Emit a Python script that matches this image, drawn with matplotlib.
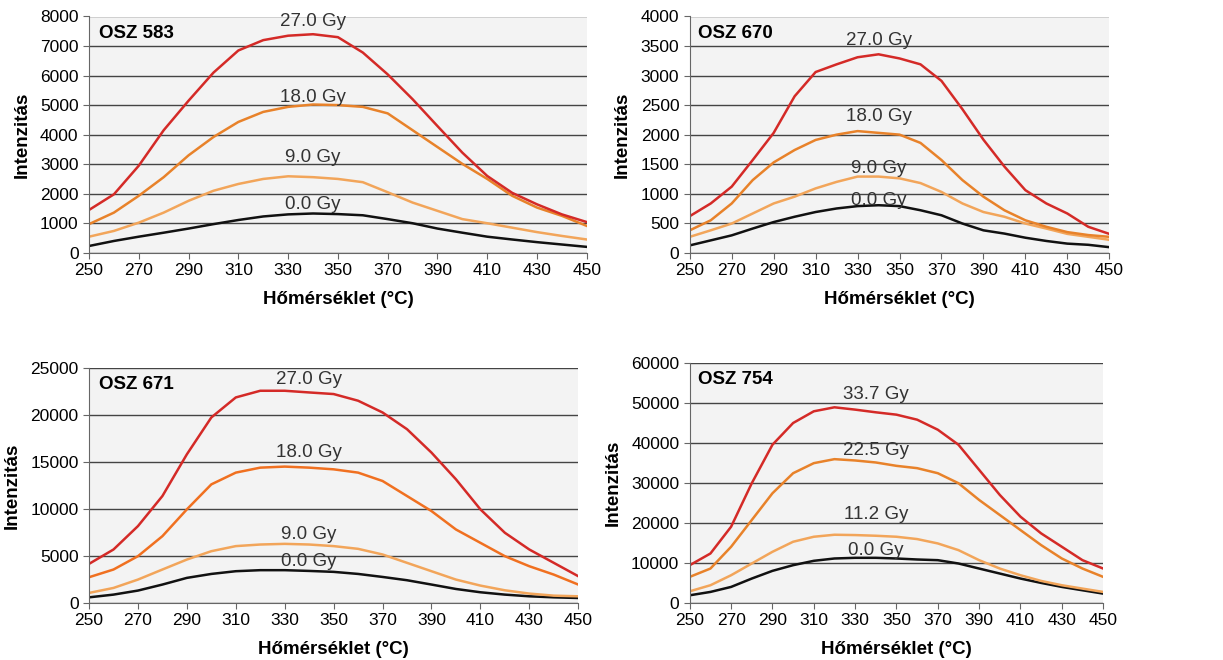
import numpy as np
import matplotlib.pyplot as plt

plt.rcParams['font.family'] = ['Liberation Sans', 'DejaVu Sans']

temp = np.arange(250, 451, 10)

# OSZ 583
s583_27 = [1450, 1980, 2950, 4150, 5150, 6100, 6850, 7200, 7350, 7400, 7300, 6780, 6040, 5200, 4290, 3390, 2600, 2030, 1640, 1300, 1040]
s583_18 = [970, 1360, 1930, 2560, 3300, 3920, 4430, 4770, 4940, 5020, 5000, 4940, 4720, 4150, 3580, 3010, 2500, 1930, 1530, 1250, 910]
s583_9 = [545, 740, 1020, 1360, 1760, 2100, 2330, 2500, 2590, 2560, 2500, 2390, 2050, 1700, 1420, 1140, 1000, 850, 700, 570, 450]
s583_0 = [230, 400, 545, 680, 820, 970, 1110, 1230, 1300, 1330, 1310, 1270, 1140, 1000, 820, 680, 545, 450, 360, 280, 200]

# OSZ 670
s670_27 = [620, 835, 1120, 1570, 2030, 2650, 3060, 3190, 3310, 3360, 3290, 3190, 2910, 2430, 1915, 1460, 1060, 835, 665, 440, 320]
s670_18 = [380, 550, 835, 1230, 1530, 1740, 1910, 2000, 2060, 2030, 2000, 1860, 1570, 1230, 950, 720, 550, 440, 350, 300, 270]
s670_9 = [270, 380, 495, 665, 835, 950, 1090, 1200, 1290, 1290, 1260, 1180, 1030, 835, 690, 610, 495, 410, 320, 270, 220]
s670_0 = [125, 210, 295, 410, 520, 610, 690, 750, 790, 805, 790, 720, 635, 495, 380, 325, 255, 200, 155, 135, 95]

# OSZ 671
s671_27 = [4160, 5690, 8180, 11380, 15820, 19740, 21870, 22580, 22580, 22400, 22230, 21520, 20270, 18490, 16000, 13160, 9960, 7470, 5690, 4270, 2850]
s671_18 = [2740, 3560, 4980, 7110, 9960, 12620, 13870, 14400, 14510, 14400, 14220, 13870, 12980, 11380, 9780, 7820, 6400, 4980, 3910, 3020, 1960]
s671_9 = [1070, 1600, 2490, 3560, 4620, 5510, 6050, 6220, 6290, 6220, 6050, 5760, 5160, 4270, 3380, 2490, 1850, 1350, 1000, 780, 710]
s671_0 = [600, 890, 1320, 1960, 2670, 3090, 3380, 3490, 3490, 3410, 3310, 3090, 2770, 2420, 1960, 1490, 1140, 890, 710, 600, 530]

# OSZ 754
s754_337 = [9440, 12360, 19050, 29910, 39520, 44950, 47870, 48870, 48290, 47620, 47030, 45780, 43270, 39520, 33250, 26980, 21550, 17380, 14040, 10690, 8600]
s754_225 = [6520, 8600, 14040, 20720, 27400, 32410, 34920, 35920, 35590, 35090, 34250, 33670, 32410, 29910, 25730, 21970, 18210, 14450, 11110, 8600, 6520]
s754_112 = [2920, 4430, 6930, 9860, 12780, 15290, 16540, 17040, 16960, 16790, 16540, 15960, 14870, 13200, 10690, 8600, 6930, 5510, 4430, 3590, 2760]
s754_0 = [1920, 2760, 4010, 6100, 8020, 9440, 10530, 11110, 11280, 11280, 11110, 10860, 10690, 9860, 8600, 7350, 6100, 5010, 4010, 3170, 2340]

colors = ['#d42a27', '#e8822a', '#f2a55a', '#111111']

panels = [
    ("OSZ 583", [0.0728, 0.617, 0.407, 0.358], 8000, 1000,
     [s583_27, s583_18, s583_9, s583_0], ["27.0 Gy", "18.0 Gy", "9.0 Gy", "0.0 Gy"],
     [7830, 5250, 3220, 1630], colors),
    ("OSZ 670", [0.564, 0.617, 0.343, 0.358], 4000, 500,
     [s670_27, s670_18, s670_9, s670_0], ["27.0 Gy", "18.0 Gy", "9.0 Gy", "0.0 Gy"],
     [3600, 2300, 1420, 880], colors),
    ("OSZ 671", [0.0728, 0.0864, 0.400, 0.356], 25000, 5000,
     [s671_27, s671_18, s671_9, s671_0], ["27.0 Gy", "18.0 Gy", "9.0 Gy", "0.0 Gy"],
     [23800, 16000, 7300, 4400], ['#d42a27', '#f07020', '#f2a55a', '#111111']),
    ("OSZ 754", [0.564, 0.0864, 0.338, 0.364], 60000, 10000,
     [s754_337, s754_225, s754_112, s754_0], ["33.7 Gy", "22.5 Gy", "11.2 Gy", "0.0 Gy"],
     [52000, 38000, 22000, 13000], colors),
]

fig = plt.figure(figsize=(12.23, 6.6), dpi=100)

for name, rect, ymax, ystep, series, labels, label_y, cols in panels:
    ax = fig.add_axes(rect)
    ax.set_facecolor('#f3f3f3')
    for vals, c in zip(series[::-1], cols[::-1]):
        ax.plot(temp, vals, color=c, lw=1.8)
    for lab, ly in zip(labels, label_y):
        ax.text(340, ly, lab, ha='center', va='center', fontsize=13.5, color='#333333')
    ax.text(0.02, 0.93, name, transform=ax.transAxes, fontsize=13.5, fontweight='bold',
            ha='left', va='center')
    ax.set_xlim(250, 450)
    ax.set_ylim(0, ymax)
    ax.set_xticks(np.arange(250, 451, 20))
    ax.set_yticks(np.arange(0, ymax + 1, ystep))
    ax.yaxis.grid(True, color='#444444', lw=1)
    ax.set_axisbelow(True)
    for s in ['top', 'right']:
        ax.spines[s].set_visible(False)
    ax.spines['left'].set_color('#666666')
    ax.spines['bottom'].set_color('#666666')
    ax.tick_params(labelsize=12.5, color='#666666', length=4)
    ax.set_xlabel("Hőmérséklet (°C)", fontsize=13.5, fontweight='bold', labelpad=9)
    ax.set_ylabel("Intenzitás", fontsize=13.5, fontweight='bold', labelpad=7)

fig.savefig('out.png', dpi=100)
